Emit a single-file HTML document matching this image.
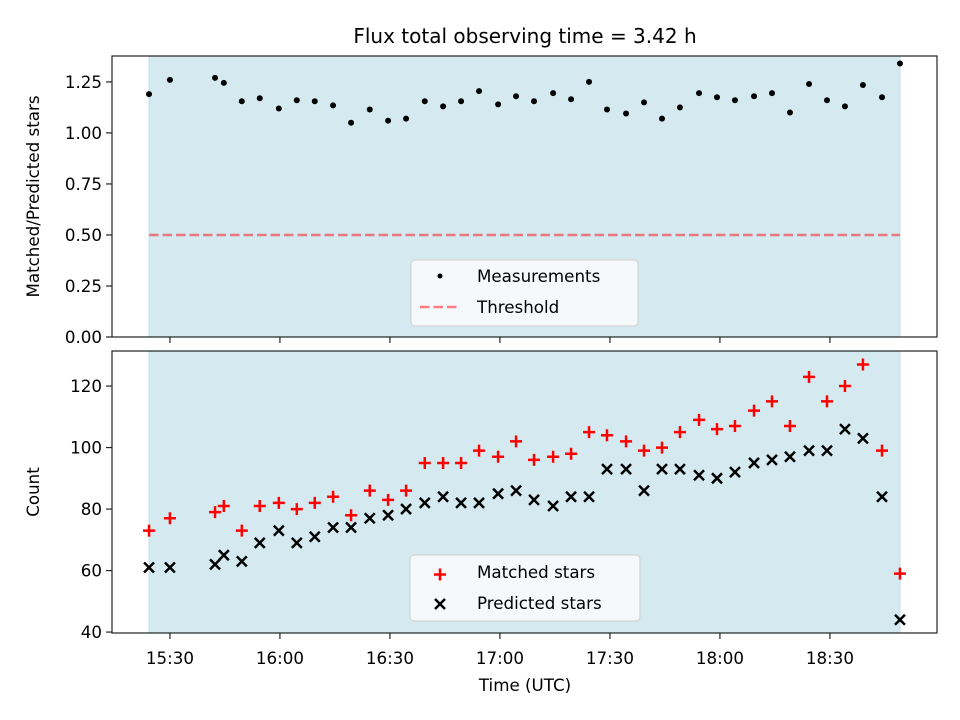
<!DOCTYPE html>
<html><head><meta charset="utf-8"><style>
body{margin:0;background:#fff}
svg{display:block;font-family:"DejaVu Sans","Liberation Sans",sans-serif}
</style></head><body>
<svg id="fig" width="960" height="720" viewBox="0 0 960 720">
<rect width="960" height="720" fill="#fff"/>
<text x="525" y="43" font-size="20" text-anchor="middle">Flux total observing time = 3.42 h</text>
<g id="top"></g>
<g id="bot"></g>
</svg>
<script>
// minutes after 15:00
const times=[24.3,30,42.3,44.7,49.6,54.5,59.7,64.6,69.5,74.5,79.4,84.5,89.5,94.4,99.5,104.5,109.4,114.3,119.5,124.4,129.3,134.5,139.4,144.3,149.2,154.4,159.3,164.2,169.1,174.3,179.2,184.1,189.3,194.2,199.1,204.3,209.2,214.1,219.0,224.2,229.1];
const ratios=[1.19,1.26,1.27,1.245,1.155,1.17,1.12,1.16,1.155,1.135,1.05,1.115,1.06,1.07,1.155,1.13,1.155,1.205,1.14,1.18,1.155,1.195,1.165,1.25,1.115,1.095,1.15,1.07,1.125,1.195,1.175,1.16,1.18,1.195,1.10,1.24,1.16,1.13,1.235,1.175,1.34];
const matched=[73,77,79,81,73,81,82,80,82,84,78,86,83,86,95,95,95,99,97,102,96,97,98,105,104,102,99,100,105,109,106,107,112,115,107,123,115,120,127,99,59];
const predicted=[61,61,62,65,63,69,73,69,71,74,74,77,78,80,82,84,82,82,85,86,83,81,84,84,93,93,86,93,93,91,90,92,95,96,97,99,99,106,103,84,44];
const threshold=0.5;
const xTickVals=[30,60,90,120,150,180,210];
const xTickLabels=["15:30","16:00","16:30","17:00","17:30","18:00","18:30"];
const topTicks=[0,0.25,0.5,0.75,1.0,1.25];
const topTickLabels=["0.00","0.25","0.50","0.75","1.00","1.25"];
const botTicks=[40,60,80,100,120];

const NS="http://www.w3.org/2000/svg";
const L=112,R=937,FS=16.7;
const xDom=[14.2,239.2];
const sx=t=>L+(t-xDom[0])/(xDom[1]-xDom[0])*(R-L);
function mk(p,tag,a){const e=document.createElementNS(NS,tag);for(const k in a)e.setAttribute(k,a[k]);p.appendChild(e);return e;}
function panel(g,T,B,yDom){
  const sy=v=>B-(v-yDom[0])/(yDom[1]-yDom[0])*(B-T);
  const sp=mk(g,'rect',{x:sx(times[0]),y:T,width:sx(times[times.length-1])-sx(times[0]),height:B-T,fill:'#d4eaf0',stroke:'#c2e0ea'});
  
  
  return sy;
}
function frame(g,T,B,sy,ticks,labels,showX,ylabel){
  const f=mk(g,'rect',{x:L,y:T,width:R-L,height:B-T,fill:'none',stroke:'#222','stroke-width':1.2});
  
  
  xTickVals.forEach((v,i)=>{
    const x=sx(v);
    mk(g,'line',{x1:x,x2:x,y1:B,y2:B+6,stroke:'#222','stroke-width':1.2});
    if(showX){const t=mk(g,'text',{x:x,y:B+31,'font-size':FS,'text-anchor':'middle'});t.textContent=xTickLabels[i];
      
      }
  });
  ticks.forEach((v,i)=>{
    const y=sy(v);
    mk(g,'line',{x1:L-6,x2:L,y1:y,y2:y,stroke:'#222','stroke-width':1.2});
    const t=mk(g,'text',{x:L-10,y:y+6,'font-size':FS,'text-anchor':'end'});t.textContent=labels[i];
    
    
  });
  const yl=mk(g,'text',{x:0,y:0,'font-size':FS,'text-anchor':'middle',transform:`translate(39,${(T+B)/2}) rotate(-90)`});
  yl.textContent=ylabel;
  
  
}
function plus(g,x,y,c){mk(g,'path',{d:`M${x-6} ${y}H${x+6}M${x} ${y-6}V${y+6}`,stroke:c,'stroke-width':2.5,fill:'none'});}
function cross(g,x,y,c){mk(g,'path',{d:`M${x-5} ${y-5}L${x+5} ${y+5}M${x-5} ${y+5}L${x+5} ${y-5}`,stroke:c,'stroke-width':2.5,fill:'none'});}

// top
const gt=document.getElementById('top');
const syT=panel(gt,56,337,[0,1.377]);
const th=mk(gt,'line',{x1:sx(times[0]),x2:sx(times[times.length-1]),y1:syT(threshold),y2:syT(threshold),stroke:'#e8777e','stroke-width':2.5,'stroke-dasharray':'9.5,4'});


times.forEach((t,i)=>{const c=mk(gt,'circle',{cx:sx(t),cy:syT(ratios[i]),r:3,fill:'#000'});
  
  });
frame(gt,56,337,syT,topTicks,topTickLabels,false,'Matched/Predicted stars');
const lg1=mk(gt,'g',{});


mk(lg1,'rect',{x:411,y:260,width:227,height:66,rx:4,fill:'#f5f9fb',stroke:'#d4d4d4','stroke-width':1.2});
mk(lg1,'circle',{cx:440,cy:276,r:2.5,fill:'#000'});
let t1=mk(lg1,'text',{x:477,y:282,'font-size':FS});t1.textContent='Measurements';
mk(lg1,'line',{x1:420,x2:460,y1:307,y2:307,stroke:'#ff8080','stroke-width':2.5,'stroke-dasharray':'9.5,4'});
let t2=mk(lg1,'text',{x:477,y:313,'font-size':FS});t2.textContent='Threshold';

// bottom
const gb=document.getElementById('bot');
const syB=panel(gb,351,633,[39.7,131.4]);
times.forEach((t,i)=>{plus(gb,sx(t),syB(matched[i]),'#ff0000');});
times.forEach((t,i)=>{cross(gb,sx(t),syB(predicted[i]),'#000');});
frame(gb,351,633,syB,botTicks,botTicks.map(String),true,'Count');
const xl=mk(gb,'text',{x:525,y:691,'font-size':FS,'text-anchor':'middle'});xl.textContent='Time (UTC)';


const lg2=mk(gb,'g',{});


mk(lg2,'rect',{x:410,y:555,width:230,height:66,rx:4,fill:'#f5f9fb',stroke:'#d4d4d4','stroke-width':1.2});
mk(lg2,'path',{d:'M434 574.5H446M440 568.5V580.5',stroke:'#ff0000','stroke-width':2.5});
let t3=mk(lg2,'text',{x:477,y:578,'font-size':FS});t3.textContent='Matched stars';
mk(lg2,'path',{d:'M435 599L445 609M435 609L445 599',stroke:'#000','stroke-width':2.5});
let t4=mk(lg2,'text',{x:477,y:609,'font-size':FS});t4.textContent='Predicted stars';
</script>
</body></html>
